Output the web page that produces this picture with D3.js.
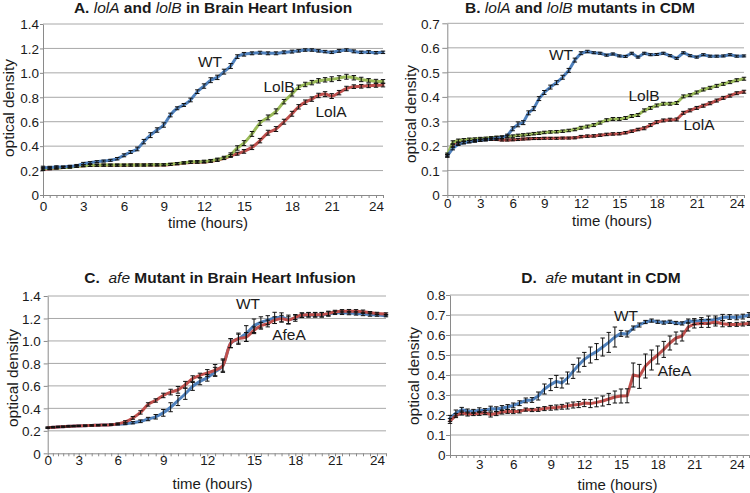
<!DOCTYPE html>
<html><head><meta charset="utf-8">
<script src="https://cdn.jsdelivr.net/npm/d3@7"></script>
<style>
html,body{margin:0;padding:0;background:#fff;}
svg{display:block;font-family:"Liberation Sans",Arial,Helvetica,sans-serif;}
</style></head><body>
<svg id="chart" width="750" height="493"></svg>
<script>
// ---------- DATA ----------
const hours = [0,0.5,1,1.5,2,2.5,3,3.5,4,4.5,
  5,5.5,6,6.5,7,7.5,8,8.5,9,9.5,
  10,10.5,11,11.5,12,12.5,13,13.5,14,14.5,
  15,15.5,16,16.5,17,17.5,18,18.5,19,19.5,
  20,20.5,21,21.5,22,22.5,23,23.5,24,24.5];
const hoursD = [0.5,1,1.5,2,2.5,3,3.5,4,4.5,5,
  5.5,6,6.5,7,7.5,8,8.5,9,9.5,10,
  10.5,11,11.5,12,12.5,13,13.5,14,14.5,15,
  15.5,16,16.5,17,17.5,18,18.5,19,19.5,20,
  20.5,21,21.5,22,22.5,23,23.5,24,24.5,25];

const xTickLabels = [0,3,6,9,12,15,18,21,24];
const xTickLabelsD = [3,6,9,12,15,18,21,24];
const yTicks14 = [0,0.2,0.4,0.6,0.8,1.0,1.2,1.4];
const yLabels14 = ["0","0.2","0.4","0.6","0.8","1.0","1.2","1.4"];
const yTicks07 = [0,0.1,0.2,0.3,0.4,0.5,0.6,0.7];
const yLabels07 = ["0","0.1","0.2","0.3","0.4","0.5","0.6","0.7"];
const yTicks08 = [0,0.1,0.2,0.3,0.4,0.5,0.6,0.7,0.8];
const yLabels08 = ["0","0.1","0.2","0.3","0.4","0.5","0.6","0.7","0.8"];

// Panel A: lolA / lolB in BHI
const aWT = [0.224,0.225,0.229,0.230,0.235,0.240,0.257,0.265,0.273,0.278,
  0.284,0.297,0.325,0.352,0.377,0.437,0.490,0.532,0.573,0.655,
  0.710,0.737,0.778,0.846,0.892,0.940,0.963,1.010,1.056,1.133,
  1.152,1.160,1.165,1.160,1.160,1.168,1.174,1.180,1.187,1.187,
  1.180,1.174,1.168,1.180,1.187,1.176,1.168,1.170,1.165,1.168];
const aWTErr = [0.012,0.010,0.010,0.008,0.008,0.010,0.010,0.008,0.008,0.008,
  0.008,0.010,0.012,0.012,0.015,0.018,0.020,0.018,0.018,0.015,
  0.012,0.012,0.015,0.015,0.018,0.020,0.018,0.020,0.020,0.015,
  0.015,0.012,0.012,0.012,0.012,0.012,0.012,0.010,0.010,0.010,
  0.010,0.010,0.010,0.012,0.010,0.012,0.010,0.012,0.010,0.010];
const aLolB = [0.215,0.218,0.222,0.225,0.228,0.235,0.240,0.242,0.244,0.245,
  0.245,0.245,0.245,0.245,0.246,0.246,0.247,0.247,0.248,0.252,
  0.258,0.264,0.270,0.272,0.275,0.281,0.290,0.305,0.330,0.385,
  0.425,0.500,0.590,0.635,0.685,0.764,0.828,0.882,0.905,0.920,
  0.935,0.943,0.948,0.957,0.968,0.960,0.946,0.938,0.932,0.930];
const aLolBErr = [0.012,0.010,0.008,0.008,0.008,0.008,0.008,0.008,0.008,0.008,
  0.008,0.008,0.008,0.008,0.008,0.008,0.008,0.008,0.008,0.008,
  0.008,0.008,0.010,0.010,0.010,0.010,0.012,0.012,0.015,0.018,
  0.020,0.020,0.020,0.020,0.020,0.018,0.018,0.018,0.018,0.018,
  0.018,0.018,0.020,0.020,0.020,0.018,0.018,0.015,0.015,0.015];
const aLolA = [0.210,0.215,0.220,0.225,0.230,0.235,0.240,0.242,0.243,0.244,
  0.244,0.244,0.244,0.245,0.245,0.245,0.246,0.246,0.246,0.250,
  0.255,0.262,0.267,0.268,0.270,0.277,0.285,0.300,0.320,0.338,
  0.357,0.390,0.445,0.510,0.540,0.600,0.665,0.722,0.760,0.785,
  0.815,0.826,0.810,0.838,0.872,0.887,0.890,0.894,0.897,0.900];
const aLolAErr = [0.010,0.008,0.008,0.008,0.008,0.008,0.008,0.008,0.008,0.008,
  0.008,0.008,0.008,0.008,0.008,0.008,0.008,0.008,0.008,0.008,
  0.008,0.008,0.008,0.008,0.008,0.010,0.010,0.010,0.012,0.012,
  0.015,0.018,0.018,0.020,0.020,0.020,0.020,0.018,0.018,0.018,
  0.018,0.020,0.020,0.018,0.018,0.015,0.015,0.015,0.015,0.015];

// Panel B: lolA / lolB in CDM
const bWT = [0.160,0.190,0.207,0.213,0.217,0.220,0.223,0.225,0.228,0.232,
  0.235,0.242,0.270,0.288,0.295,0.335,0.352,0.393,0.418,0.440,
  0.458,0.480,0.508,0.550,0.578,0.585,0.580,0.578,0.570,0.575,
  0.567,0.565,0.578,0.562,0.578,0.572,0.573,0.578,0.568,0.557,
  0.580,0.568,0.562,0.572,0.566,0.566,0.567,0.572,0.566,0.567];
const bWTErr = [0.006,0.006,0.005,0.005,0.005,0.005,0.005,0.005,0.005,0.005,
  0.005,0.006,0.008,0.010,0.008,0.008,0.008,0.008,0.008,0.008,
  0.008,0.008,0.008,0.008,0.006,0.005,0.004,0.004,0.004,0.004,
  0.004,0.004,0.004,0.004,0.004,0.004,0.004,0.004,0.004,0.004,
  0.004,0.004,0.004,0.004,0.004,0.004,0.004,0.004,0.004,0.004];
const bLolB = [0.165,0.215,0.222,0.225,0.227,0.228,0.230,0.231,0.233,0.235,
  0.236,0.238,0.240,0.243,0.245,0.247,0.250,0.252,0.255,0.257,
  0.258,0.260,0.263,0.267,0.274,0.279,0.285,0.295,0.305,0.310,
  0.310,0.314,0.322,0.326,0.345,0.355,0.365,0.372,0.372,0.375,
  0.402,0.407,0.418,0.430,0.437,0.445,0.453,0.460,0.468,0.474];
const bLolBErr = [0.006,0.006,0.006,0.005,0.005,0.005,0.005,0.005,0.005,0.005,
  0.005,0.005,0.005,0.005,0.005,0.005,0.005,0.005,0.005,0.005,
  0.005,0.005,0.005,0.005,0.006,0.006,0.006,0.006,0.006,0.006,
  0.006,0.006,0.006,0.006,0.006,0.006,0.006,0.006,0.006,0.006,
  0.006,0.006,0.006,0.006,0.006,0.006,0.006,0.006,0.006,0.006];
const bLolA = [0.160,0.200,0.210,0.215,0.219,0.222,0.224,0.226,0.227,0.226,
  0.224,0.224,0.225,0.226,0.228,0.229,0.230,0.230,0.231,0.231,
  0.231,0.232,0.232,0.233,0.238,0.240,0.241,0.244,0.247,0.249,
  0.250,0.254,0.260,0.267,0.272,0.285,0.297,0.304,0.307,0.308,
  0.335,0.345,0.355,0.364,0.374,0.385,0.396,0.405,0.415,0.421];
const bLolAErr = [0.005,0.005,0.005,0.004,0.004,0.004,0.004,0.004,0.004,0.004,
  0.004,0.004,0.004,0.004,0.004,0.004,0.004,0.004,0.004,0.004,
  0.004,0.004,0.004,0.004,0.005,0.005,0.005,0.005,0.005,0.005,
  0.005,0.005,0.005,0.005,0.006,0.006,0.006,0.006,0.006,0.006,
  0.006,0.006,0.006,0.006,0.006,0.006,0.006,0.006,0.006,0.006];

// Panel C: afe in BHI
const cWT = [0.228,0.232,0.235,0.237,0.240,0.242,0.244,0.246,0.248,0.250,
  0.252,0.255,0.258,0.263,0.272,0.285,0.305,0.325,0.360,0.410,
  0.470,0.530,0.595,0.640,0.672,0.725,0.780,0.980,1.020,1.066,
  1.135,1.165,1.185,1.205,1.210,1.190,1.205,1.228,1.232,1.232,
  1.232,1.240,1.250,1.250,1.248,1.245,1.240,1.235,1.230,1.225];
const cWTErr = [0.005,0.005,0.005,0.005,0.005,0.005,0.005,0.005,0.005,0.005,
  0.005,0.005,0.005,0.008,0.010,0.012,0.015,0.020,0.030,0.040,
  0.045,0.050,0.035,0.030,0.030,0.040,0.060,0.040,0.050,0.070,
  0.060,0.050,0.040,0.050,0.040,0.040,0.030,0.020,0.020,0.020,
  0.020,0.020,0.015,0.015,0.015,0.015,0.015,0.015,0.010,0.010];
const cAfeA = [0.228,0.232,0.235,0.237,0.240,0.242,0.244,0.246,0.248,0.250,
  0.252,0.255,0.262,0.280,0.315,0.364,0.435,0.470,0.515,0.545,
  0.565,0.610,0.665,0.693,0.715,0.740,0.780,0.980,1.020,1.035,
  1.095,1.135,1.155,1.185,1.198,1.185,1.210,1.230,1.234,1.234,
  1.234,1.245,1.258,1.264,1.265,1.264,1.260,1.252,1.245,1.240];
const cAfeAErr = [0.005,0.005,0.005,0.005,0.005,0.005,0.005,0.005,0.005,0.005,
  0.005,0.005,0.008,0.010,0.012,0.015,0.015,0.015,0.020,0.025,
  0.030,0.030,0.025,0.020,0.030,0.050,0.050,0.040,0.040,0.040,
  0.030,0.030,0.030,0.030,0.030,0.030,0.020,0.020,0.020,0.020,
  0.020,0.020,0.015,0.015,0.015,0.015,0.015,0.010,0.010,0.010];

// Panel D: afe in CDM
const dWT = [0.183,0.210,0.226,0.220,0.218,0.224,0.222,0.232,0.229,0.235,
  0.240,0.248,0.259,0.273,0.275,0.295,0.330,0.352,0.368,0.360,
  0.385,0.418,0.450,0.478,0.500,0.517,0.540,0.563,0.590,0.608,
  0.605,0.635,0.650,0.665,0.672,0.666,0.662,0.666,0.660,0.658,
  0.670,0.667,0.672,0.675,0.675,0.688,0.690,0.688,0.692,0.700];
const dWTErr = [0.015,0.015,0.012,0.010,0.010,0.012,0.010,0.012,0.012,0.012,
  0.012,0.012,0.012,0.012,0.012,0.020,0.025,0.030,0.030,0.025,
  0.030,0.035,0.035,0.035,0.040,0.040,0.045,0.050,0.050,0.015,
  0.015,0.010,0.010,0.008,0.008,0.008,0.008,0.008,0.008,0.008,
  0.010,0.015,0.015,0.020,0.020,0.015,0.012,0.012,0.012,0.012];
const dAfeA = [0.170,0.197,0.210,0.205,0.205,0.208,0.212,0.202,0.207,0.215,
  0.218,0.217,0.218,0.227,0.225,0.228,0.232,0.236,0.238,0.241,
  0.245,0.250,0.252,0.260,0.257,0.263,0.270,0.280,0.290,0.295,
  0.296,0.400,0.393,0.445,0.475,0.500,0.528,0.560,0.585,0.595,
  0.640,0.655,0.658,0.658,0.665,0.656,0.652,0.653,0.655,0.658];
const dAfeAErr = [0.012,0.010,0.010,0.010,0.008,0.010,0.010,0.012,0.010,0.010,
  0.010,0.010,0.008,0.008,0.008,0.010,0.010,0.012,0.012,0.012,
  0.015,0.015,0.015,0.018,0.020,0.022,0.025,0.028,0.030,0.035,
  0.035,0.060,0.060,0.060,0.050,0.045,0.040,0.035,0.030,0.025,
  0.020,0.020,0.020,0.020,0.020,0.015,0.010,0.010,0.010,0.010];

// ---------- DRAW ----------
const BLUE = "#4F81BD", RED = "#C0504D", GREEN = "#9BBB59";
const svg = d3.select("#chart");
const TXT = "#1a1a1a";

const panels = [
  { title:[["A. ","bold","normal"],["lolA","normal","italic"],[" and ","bold","normal"],["lolB","normal","italic"],[" in Brain Heart Infusion","bold","normal"]],
    titlePos:[213,8],
    hrs: hours, xTicks: xTickLabels,
    xDom:[0,3,6,9,12,15,18,21,24,24.5], xRng:[43,83.3,124,163.7,204,244,292,331.7,376,383],
    yDom:[0,1.4], yRng:[195,24], yTicks:yTicks14, yLabels:yLabels14,
    yTickLen:3, yLabelGap:4, xLabelOff:11.5, smooth:true,
    yTitle:[9,108], xTitle:[208,222.5],
    series:[ {v:aLolA,e:aLolAErr,c:RED}, {v:aLolB,e:aLolBErr,c:GREEN}, {v:aWT,e:aWTErr,c:BLUE} ],
    notes:[["WT",210,62],["LolB",279,87],["LolA",331,112]] },
  { title:[["B. ","bold","normal"],["lolA","normal","italic"],[" and ","bold","normal"],["lolB","normal","italic"],[" mutants in CDM","bold","normal"]],
    titlePos:[580,8],
    hrs: hours, xTicks: xTickLabels,
    xDom:[0,3,6,9,12,15,18,21,24,24.5], xRng:[447.3,480.3,512.7,544.3,581,619.3,656.7,696.7,736.7,744],
    yDom:[0,0.7], yRng:[195,23.3], yTicks:yTicks07, yLabels:yLabels07,
    yTickLen:5, yLabelGap:7.5, xLabelOff:8.5, smooth:false,
    yTitle:[411,114], xTitle:[612,220.5],
    series:[ {v:bLolA,e:bLolAErr,c:RED}, {v:bLolB,e:bLolBErr,c:GREEN}, {v:bWT,e:bWTErr,c:BLUE} ],
    notes:[["WT",561,55],["LolB",644,96],["LolA",699,125]] },
  { title:[["C.  ","bold","normal"],["afe","normal","italic"],[" Mutant in Brain Heart Infusion","bold","normal"]],
    titlePos:[220,278],
    hrs: hours, xTicks: xTickLabels,
    xDom:[0,3,6,9,12,15,18,21,24,24.5], xRng:[47.7,78.7,117.7,163.3,207.3,254,295.3,335,377,386],
    yDom:[0,1.4], yRng:[453.3,296], yTicks:yTicks14, yLabels:yLabels14,
    yTickLen:4, yLabelGap:7, xLabelOff:6.5, smooth:true,
    yTitle:[12.5,378], xTitle:[212.5,484],
    series:[ {v:cWT,e:cWTErr,c:BLUE}, {v:cAfeA,e:cAfeAErr,c:RED} ],
    notes:[["WT",248,304],["AfeA",289,335]] },
  { title:[["D.  ","bold","normal"],["afe","normal","italic"],[" mutant in CDM","bold","normal"]],
    titlePos:[601,278],
    hrs: hoursD, xTicks: xTickLabelsD,
    xDom:[0.5,3,6,9,12,15,18,21,24,25], xRng:[450,479.3,513.3,550.7,584.3,621,657.7,694.3,736.7,749],
    yDom:[0,0.8], yRng:[455,295], yTicks:yTicks08, yLabels:yLabels08,
    yTickLen:4, yLabelGap:4.5, xLabelOff:9.7, smooth:false,
    yTitle:[414,376], xTitle:[617.5,485],
    series:[ {v:dWT,e:dWTErr,c:BLUE}, {v:dAfeA,e:dAfeAErr,c:RED} ],
    notes:[["WT",626,316],["AfeA",674.5,371]] }
];

panels.forEach(p => {
  const x = d3.scaleLinear().domain(p.xDom).range(p.xRng);
  const y = d3.scaleLinear().domain(p.yDom).range(p.yRng);
  const g = svg.append("g");
  const x0 = p.xRng[0], x1 = p.xRng[p.xRng.length-1];

  // gridlines
  g.append("g").selectAll("line").data(p.yTicks.filter(v => v > 0)).join("line")
    .attr("x1", x0).attr("x2", x1)
    .attr("y1", d => y(d)).attr("y2", d => y(d))
    .attr("stroke", "#a8a8a8").attr("stroke-width", 1);

  // y axis
  const ya = g.append("g").attr("transform", `translate(${x0},0)`)
    .call(d3.axisLeft(y).tickValues(p.yTicks).tickFormat((d,i) => p.yLabels[i])
      .tickSize(p.yTickLen).tickSizeOuter(0));
  ya.attr("font-family", null).attr("font-size", null);
  ya.select(".domain").attr("stroke", "#8a8a8a");
  ya.selectAll(".tick line").attr("stroke", "#8a8a8a");
  ya.selectAll(".tick text").attr("x", -p.yLabelGap).attr("dy", "0.35em")
    .style("font-size", "13.5px").attr("fill", TXT);

  // x axis line with minor ticks every half hour
  const xa = g.append("g").attr("transform", `translate(0,${y(0)})`)
    .call(d3.axisBottom(x).tickValues(p.hrs).tickFormat("").tickSize(3).tickSizeOuter(0));
  xa.select(".domain").attr("stroke", "#8a8a8a");
  xa.selectAll(".tick line").attr("stroke", "#8a8a8a");

  // x tick labels
  const xl = g.append("g").attr("transform", `translate(0,${y(0)})`)
    .call(d3.axisBottom(x).tickValues(p.xTicks).tickFormat(d => String(d)).tickSize(0));
  xl.attr("font-family", null).attr("font-size", null);
  xl.select(".domain").remove();
  xl.selectAll(".tick text").attr("y", p.xLabelOff).attr("dy", "0.35em")
    .style("font-size", "13.5px").attr("fill", TXT);

  // lines
  const line = d3.line().x((d,i) => x(p.hrs[i])).y(d => y(d))
    .curve(p.smooth ? d3.curveMonotoneX : d3.curveLinear);
  p.series.forEach(s => {
    g.append("path").datum(s.v).attr("d", line)
      .attr("fill", "none").attr("stroke", s.c).attr("stroke-width", 3)
      .attr("stroke-linejoin", "round").attr("stroke-linecap", "round");
  });

  // error bars
  p.series.forEach(s => {
    const eb = g.append("g").attr("stroke", "#111").attr("stroke-width", 1);
    s.v.forEach((v,i) => {
      const cx = x(p.hrs[i]), e = s.e[i];
      const yt = y(v + e), yb = y(v - e);
      eb.append("line").attr("x1", cx).attr("x2", cx).attr("y1", yt).attr("y2", yb);
      eb.append("line").attr("x1", cx-2.2).attr("x2", cx+2.2).attr("y1", yt).attr("y2", yt);
      eb.append("line").attr("x1", cx-2.2).attr("x2", cx+2.2).attr("y1", yb).attr("y2", yb);
    });
  });

  // series annotations
  p.notes.forEach(n => {
    g.append("text").attr("x", n[1]).attr("y", n[2]).attr("dy", "0.35em")
      .attr("text-anchor", "middle").style("font-size", "15.5px").attr("fill", TXT).text(n[0]);
  });

  // title
  const t = g.append("text").attr("x", p.titlePos[0]).attr("y", p.titlePos[1]).attr("dy", "0.35em")
    .attr("text-anchor", "middle").style("font-size", "15.5px").style("white-space", "pre")
    .attr("fill", TXT);
  p.title.forEach(part => {
    t.append("tspan").text(part[0]).style("font-weight", part[1]).style("font-style", part[2]);
  });

  // axis titles
  g.append("text").attr("transform", `translate(${p.yTitle[0]},${p.yTitle[1]}) rotate(-90)`)
    .attr("dy", "0.35em").attr("text-anchor", "middle").style("font-size", "15.5px")
    .attr("fill", TXT).text("optical density");
  g.append("text").attr("x", p.xTitle[0]).attr("y", p.xTitle[1]).attr("dy", "0.35em")
    .attr("text-anchor", "middle").style("font-size", "15px")
    .attr("fill", TXT).text("time (hours)");
});
</script>
</body></html>
